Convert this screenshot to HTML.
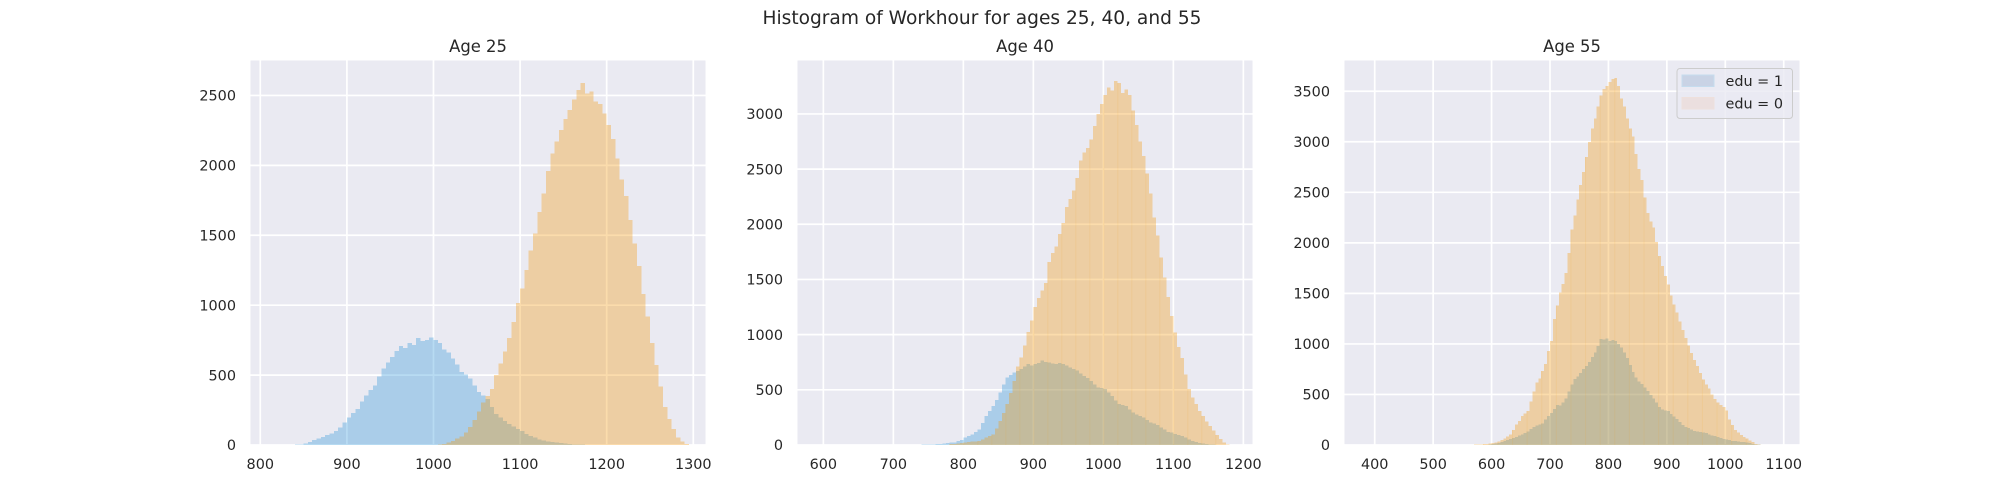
<!DOCTYPE html>
<html>
<head>
<meta charset="utf-8">
<title>Histogram of Workhour</title>
<style>
html,body{margin:0;padding:0;background:#fff;}
svg{display:block;}
text{font-family:"DejaVu Sans","Liberation Sans",sans-serif;fill:#262626;}
</style>
</head>
<body>
<svg id="chart" xmlns="http://www.w3.org/2000/svg" width="2000" height="500" viewBox="0 0 2000 500">
  <text x="982" y="24" text-anchor="middle" font-size="18.6">Histogram of Workhour for ages 25, 40, and 55</text>
  <g id="panel-25"></g>
  <g id="panel-40"></g>
  <g id="panel-55"></g>
  <text x="478" y="52" text-anchor="middle" font-size="16.4">Age 25</text>
  <text x="1025" y="52" text-anchor="middle" font-size="16.4">Age 40</text>
  <text x="1572" y="52" text-anchor="middle" font-size="16.4">Age 55</text>
  <g>
    <rect x="1677" y="68.5" width="115.5" height="50" rx="3" fill="#eaeaf2" fill-opacity="0.8" stroke="#cccccc" stroke-width="1"/>
    <rect x="1682" y="75" width="32" height="11.5" fill="#c9d3e5" stroke="#c5dcee" stroke-width="1"/>
    <text x="1725.5" y="86" font-size="14.4">edu = 1</text>
    <rect x="1682" y="97.5" width="32" height="11.5" fill="#ebdfdf" stroke="#eee0dc" stroke-width="1"/>
    <text x="1725.5" y="108.3" font-size="14.4">edu = 0</text>
  </g>
</svg>
<script>
// Bin width shared by all histograms (workhour units)
const binWidth = 5;

// Age 25
const age25XTicks = [800, 900, 1000, 1100, 1200, 1300];
const age25YTicks = [0, 500, 1000, 1500, 2000, 2500];
const age25BlueStart = 840;
const age25Blue = [
  2,4,10,20,35,47,58,70,82,100,125,160,198,230,258,310,354,395,426,490,
  547,590,631,672,708,695,728,715,764,745,752,770,752,730,684,660,619,575,523,505,
  475,425,378,355,330,270,222,195,173,150,132,115,100,80,65,52,41,32,26,20,
  17,13,10,7,5,3,2
];
const age25OrangeStart = 1000;
const age25Orange = [
  1,3,8,17,30,45,62,90,130,180,240,305,350,402,500,583,670,764,880,1017,
  1120,1252,1390,1514,1665,1800,1960,2085,2170,2252,2330,2395,2470,2538,2590,2514,2530,2455,2440,2370,
  2290,2190,2050,1900,1780,1610,1440,1280,1080,919,730,571,420,270,185,113,55,25,6
];

// Age 40
const age40XTicks = [600, 700, 800, 900, 1000, 1100, 1200];
const age40YTicks = [0, 500, 1000, 1500, 2000, 2500, 3000];
const age40BlueStart = 720;
const age40Blue = [
  1,1,2,2,3,4,5,6,9,10,13,17,21,24,36,45,67,82,97,118,
  142,200,264,310,355,410,476,550,612,635,658,672,688,710,733,720,733,745,764,752,
  748,740,735,742,733,720,703,690,673,650,627,605,582,550,521,515,506,475,445,405,
  370,362,355,320,294,275,262,248,225,205,197,180,158,140,120,112,100,91,80,68,
  52,36,28,20,12,8,5,3
];
const age40OrangeStart = 780;
const age40Orange = [
  9,10,13,16,21,25,30,33,36,50,68,80,97,150,218,290,370,470,582,710,
  794,900,1024,1130,1250,1330,1400,1470,1660,1740,1800,1910,2010,2155,2230,2306,2420,2580,2650,2690,
  2770,2890,3000,3090,3170,3241,3210,3300,3280,3190,3220,3170,3030,2900,2750,2620,2460,2280,2060,1900,
  1700,1520,1340,1170,1020,888,790,640,506,430,370,310,264,215,173,130,91,55,21,6
];

// Age 55
const age55XTicks = [400, 500, 600, 700, 800, 900, 1000, 1100];
const age55YTicks = [0, 500, 1000, 1500, 2000, 2500, 3000, 3500];
const age55BlueStart = 590;
const age55Blue = [
  2,6,10,16,22,30,38,48,58,68,80,92,105,120,135,160,178,195,205,215,
  250,285,315,355,395,390,420,460,530,600,651,680,710,750,780,820,870,916,980,1050,
  1045,1055,1031,1040,1030,1000,965,915,860,790,720,670,630,602,570,535,495,460,420,375,
  350,340,337,305,280,255,230,200,180,170,155,140,135,128,122,118,105,92,89,78,
  68,58,54,48,42,38,36,32,28,24,20,12,6,3
];
const age55OrangeStart = 570;
const age55Orange = [
  3,5,6,8,10,15,20,26,33,48,66,85,106,150,205,238,288,310,337,430,
  530,618,660,730,800,930,1031,1246,1380,1510,1593,1700,1900,2131,2270,2430,2570,2700,2850,3000,
  3130,3230,3350,3460,3520,3550,3590,3620,3630,3550,3430,3350,3230,3130,3050,2880,2730,2620,2450,2295,
  2210,2150,2010,1868,1770,1670,1590,1480,1390,1310,1220,1140,1060,985,910,840,780,710,650,600,
  560,500,453,420,395,375,340,250,200,150,125,100,80,62,45,28,12,5,2
];

const SVGNS = 'http://www.w3.org/2000/svg';
const AXIS_TOP = 60.5, AXIS_BOTTOM = 445;

function makeScale(d0, d1, r0, r1) {
  return function (v) { return r0 + (v - d0) * (r1 - r0) / (d1 - d0); };
}

function drawSeries(group, start, values, color, opacity, x, y, seriesName, stripeEvery, stripeOffset) {
  values.forEach(function (v, i) {
    const lo = start + i * binWidth;
    const x0 = x(lo), x1 = x(lo + binWidth);
    const bar = document.createElementNS(SVGNS, 'rect');
    
    
    bar.setAttribute('x', x0);
    bar.setAttribute('y', y(v));
    bar.setAttribute('width', x1 - x0);
    bar.setAttribute('height', y(0) - y(v));
    bar.setAttribute('fill', color);
    bar.setAttribute('fill-opacity', opacity);
    bar.setAttribute('shape-rendering', 'crispEdges');
    group.appendChild(bar);
    if (stripeEvery && i % stripeEvery === stripeOffset) {
      const stripe = document.createElementNS(SVGNS, 'rect');
      
      
      stripe.setAttribute('x', x0);
      stripe.setAttribute('y', y(v));
      stripe.setAttribute('width', 1);
      stripe.setAttribute('height', y(0) - y(v));
      stripe.setAttribute('fill', color);
      stripe.setAttribute('fill-opacity', 0.1);
      group.appendChild(stripe);
    }
  });
}

function drawPanel(opts) {
  const g = document.getElementById(opts.id);
  const x = makeScale(opts.xMin, opts.xMax, opts.left, opts.right);
  const y = makeScale(0, opts.yMax, AXIS_BOTTOM, AXIS_TOP);

  const bg = document.createElementNS(SVGNS, 'rect');
  
  
  bg.setAttribute('x', opts.left);
  bg.setAttribute('y', AXIS_TOP);
  bg.setAttribute('width', opts.right - opts.left);
  bg.setAttribute('height', AXIS_BOTTOM - AXIS_TOP);
  bg.setAttribute('fill', '#eaeaf2');
  g.appendChild(bg);

  opts.xTicks.forEach(function (t) {
    const line = document.createElementNS(SVGNS, 'line');
    
    
    line.setAttribute('x1', x(t));
    line.setAttribute('x2', x(t));
    line.setAttribute('y1', AXIS_TOP);
    line.setAttribute('y2', AXIS_BOTTOM);
    line.setAttribute('stroke', '#ffffff');
    line.setAttribute('stroke-width', 1.7);
    g.appendChild(line);
    const label = document.createElementNS(SVGNS, 'text');
    
    
    label.setAttribute('x', x(t));
    label.setAttribute('y', 469);
    label.setAttribute('text-anchor', 'middle');
    label.setAttribute('font-size', 14.4);
    label.textContent = t;
    g.appendChild(label);
  });

  opts.yTicks.forEach(function (t) {
    const line = document.createElementNS(SVGNS, 'line');
    
    
    line.setAttribute('x1', opts.left);
    line.setAttribute('x2', opts.right);
    line.setAttribute('y1', y(t));
    line.setAttribute('y2', y(t));
    line.setAttribute('stroke', '#ffffff');
    line.setAttribute('stroke-width', 1.7);
    g.appendChild(line);
    const label = document.createElementNS(SVGNS, 'text');
    
    
    label.setAttribute('x', opts.left - 14.5);
    label.setAttribute('y', y(t) + 5.2);
    label.setAttribute('text-anchor', 'end');
    label.setAttribute('font-size', 14.4);
    label.textContent = t;
    g.appendChild(label);
  });

  drawSeries(g, opts.blueStart, opts.blue, '#3498db', 0.35, x, y, opts.name + '-edu-1', 0, 0);
  drawSeries(g, opts.orangeStart, opts.orange, '#f39c12', 0.35, x, y, opts.name + '-edu-0', opts.stripeEvery, opts.stripeOffset);
}

drawPanel({
  id: 'panel-25', name: 'age-25', left: 250.5, right: 705.5,
  xMin: 788.7, xMax: 1314.1, yMax: 2750,
  xTicks: age25XTicks, yTicks: age25YTicks,
  blueStart: age25BlueStart, blue: age25Blue,
  orangeStart: age25OrangeStart, orange: age25Orange,
  stripeEvery: 0, stripeOffset: 0
});
drawPanel({
  id: 'panel-40', name: 'age-40', left: 797.5, right: 1252.5,
  xMin: 563.1, xMax: 1213.1, yMax: 3484,
  xTicks: age40XTicks, yTicks: age40YTicks,
  blueStart: age40BlueStart, blue: age40Blue,
  orangeStart: age40OrangeStart, orange: age40Orange,
  stripeEvery: 4, stripeOffset: 0
});
drawPanel({
  id: 'panel-55', name: 'age-55', left: 1344.5, right: 1799.5,
  xMin: 348.3, xMax: 1127, yMax: 3804,
  xTicks: age55XTicks, yTicks: age55YTicks,
  blueStart: age55BlueStart, blue: age55Blue,
  orangeStart: age55OrangeStart, orange: age55Orange,
  stripeEvery: 5, stripeOffset: 3
});
</script>
</body>
</html>
